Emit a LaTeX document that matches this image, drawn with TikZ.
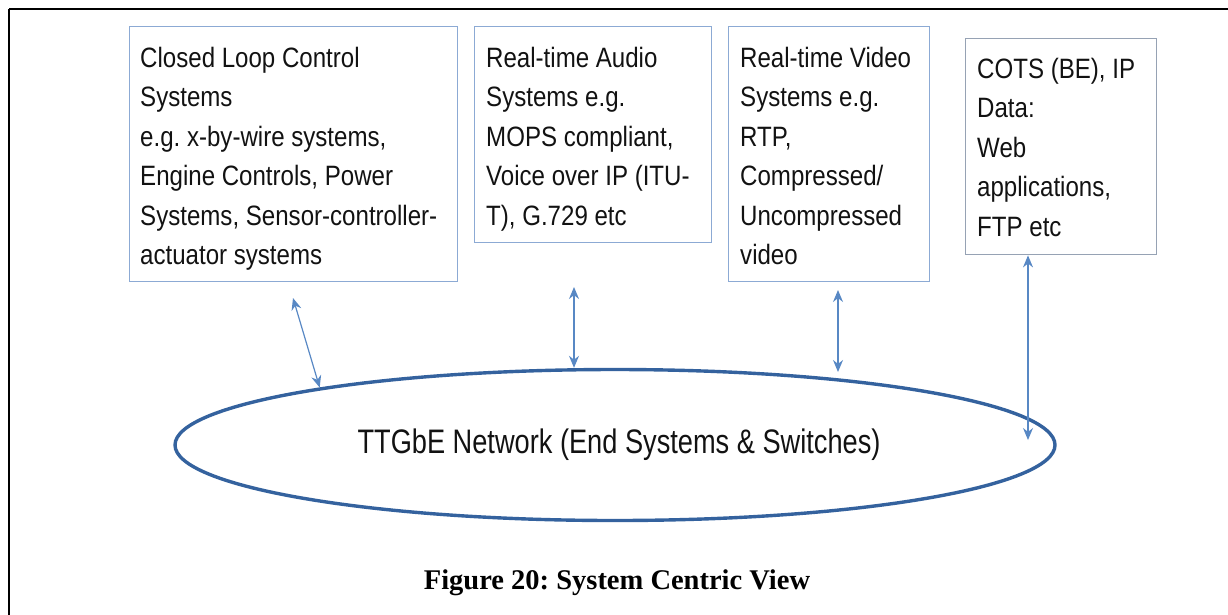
\documentclass[tikz,border=0pt]{standalone}
\usepackage{fontspec}
\usetikzlibrary{arrows.meta,shapes.geometric}
\newfontfamily\boxfont{Liberation Sans}[FakeStretch=0.86]
\newfontfamily\netfont{Liberation Sans}[FakeStretch=0.80]
\newfontfamily\capfont{Liberation Serif}

\definecolor{boxline}{RGB}{140,170,212}
\definecolor{boxgrey}{RGB}{150,162,180}
\definecolor{netline}{RGB}{52,98,158}
\definecolor{linkline}{RGB}{88,136,196}
\definecolor{ink}{RGB}{18,18,18}

\tikzset{
  sysbox/.style={draw=boxline, line width=1.4pt, rectangle, inner sep=0pt, anchor=north west},
  boxtext/.style={anchor=base west, inner sep=0pt, text=ink, font=\boxfont\fontsize{28}{39.5}\selectfont},
  link/.style={draw=linkline, line width=1.2pt, {Stealth[length=12pt,width=10pt]}-{Stealth[length=12pt,width=10pt]}},
  frame/.style={draw=black, line width=2.2pt}
}
% stacked lines with a fixed baseline distance; baseline of the box = first line
\newcommand{\stack}[1]{\vtop{\baselineskip=39.5pt\lineskiplimit=-50pt #1}}

\begin{document}
\frenchspacing
\begin{tikzpicture}[x=1pt,y=-1pt]
\useasboundingbox (0,0) rectangle (1228,614);

% page frame (top and left edges)
\draw[frame] (9,9) -- (1230,9);
\draw[frame] (9,9) -- (9,616);

% application boxes
\node[sysbox, minimum width=328pt, minimum height=255pt] (b1) at (129,26) {};
\node[sysbox, minimum width=237pt, minimum height=216pt] (b2) at (474,26) {};
\node[sysbox, minimum width=201pt, minimum height=255pt] (b3) at (728,26) {};
\node[sysbox, draw=boxgrey, minimum width=191pt, minimum height=216pt] (b4) at (965,38) {};

\node[boxtext] (t1) at (140,67) {\stack{\hbox{Closed Loop Control}\hbox{Systems}\hbox{e.g. x-by-wire systems,}\hbox{Engine Controls, Power}\hbox{Systems, Sensor-controller-}\hbox{actuator systems}}};
\node[boxtext] (t2) at (486,67) {\stack{\hbox{Real-time Audio}\hbox{Systems e.g.}\hbox{MOPS compliant,}\hbox{Voice over IP (ITU-}\hbox{T), G.729 etc}}};
\node[boxtext] (t3) at (740,67) {\stack{\hbox{Real-time Video}\hbox{Systems e.g.}\hbox{RTP,}\hbox{Compressed/}\hbox{Uncompressed}\hbox{video}}};
\node[boxtext] (t4) at (977,78) {\stack{\hbox{COTS (BE), IP}\hbox{Data:}\hbox{Web}\hbox{applications,}\hbox{FTP etc}}};

% network ellipse
\node[ellipse, draw=netline, line width=3.4pt, inner sep=0pt,
      minimum width=880pt, minimum height=151pt] (net) at (615,445) {};
\node[anchor=base, inner sep=0pt, text=ink, font=\netfont\fontsize{34}{40}\selectfont]
      (netlabel) at (619,453) {TTGbE Network (End Systems \& Switches)};

% connectors between the applications and the network
\coordinate (p1) at (293,298);
\coordinate (p2) at (574,287);
\coordinate (p3) at (838,290);
\coordinate (q3) at (838,372);
\coordinate (p4) at (1028,440);
\draw[link] (p1) -- (net.169.9);
\draw[link] (p2) -- (p2 |- net.north);
\draw[link] (p3) -- (q3);
\draw[link] (p4 |- b4.south) -- (p4);

% caption
\node[anchor=base, inner sep=0pt, font=\capfont\bfseries\fontsize{28.5}{34}\selectfont]
      (caption) at (617,589) {Figure 20: System Centric View};
\end{tikzpicture}
\end{document}
